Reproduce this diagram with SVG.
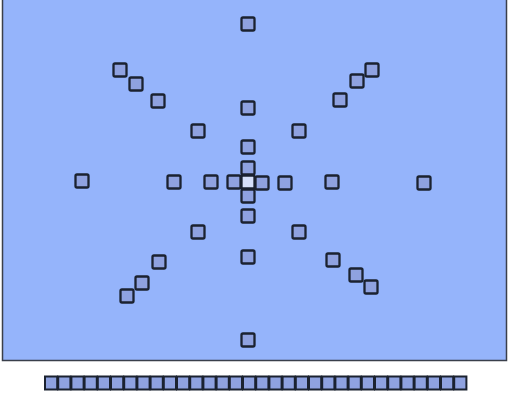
<svg xmlns="http://www.w3.org/2000/svg" width="509" height="396" viewBox="0 0 509 396">
<style>
.bg{fill:#95b4fb;stroke:#3a3f4a;stroke-width:1.5}
.n rect{fill:#8fa2e0;stroke:#1b2230;stroke-width:2.3;rx:1.5;width:13px;height:13px}
.n rect.c{fill:#d6e0fa}
.b rect{fill:#8fa2e0;stroke:#1b2230;stroke-width:2;width:12.2px;height:13px}
</style>
<rect class="bg" x="2.5" y="-2" width="504" height="362.5"/>
<g id="nodes" class="n">
<g id="n1"><rect x="241.5" y="17.5"/></g>
<g id="n2"><rect x="241.5" y="333.5"/></g>
<g id="n3"><rect x="75.5" y="174.5"/></g>
<g id="n4"><rect x="417.5" y="176.5"/></g>
<g id="n5"><rect x="113.5" y="63.5"/></g>
<g id="n6"><rect x="129.5" y="77.5"/></g>
<g id="n7"><rect x="151.5" y="94.5"/></g>
<g id="n8"><rect x="365.5" y="63.5"/></g>
<g id="n9"><rect x="350.5" y="74.5"/></g>
<g id="n10"><rect x="333.5" y="93.5"/></g>
<g id="n11"><rect x="241.5" y="101.5"/></g>
<g id="n12"><rect x="241.5" y="140.5"/></g>
<g id="n13"><rect x="191.5" y="124.5"/></g>
<g id="n14"><rect x="292.5" y="124.5"/></g>
<g id="n15"><rect x="167.5" y="175.5"/></g>
<g id="n16"><rect x="204.5" y="175.5"/></g>
<g id="n17"><rect x="278.5" y="176.5"/></g>
<g id="n18"><rect x="325.5" y="175.5"/></g>
<g id="n19"><rect class="c" x="241.5" y="175.5"/></g>
<g id="n20"><rect x="227.5" y="175.5"/></g>
<g id="n21"><rect x="255.5" y="176.5"/></g>
<g id="n22"><rect x="241.5" y="161.5"/></g>
<g id="n23"><rect x="241.5" y="189.5"/></g>
<g id="n24"><rect x="241.5" y="209.5"/></g>
<g id="n25"><rect x="241.5" y="250.5"/></g>
<g id="n26"><rect x="191.5" y="225.5"/></g>
<g id="n27"><rect x="292.5" y="225.5"/></g>
<g id="n28"><rect x="152.5" y="255.5"/></g>
<g id="n29"><rect x="135.5" y="276.5"/></g>
<g id="n30"><rect x="120.5" y="289.5"/></g>
<g id="n31"><rect x="326.5" y="253.5"/></g>
<g id="n32"><rect x="349.5" y="268.5"/></g>
<g id="n33"><rect x="364.5" y="280.5"/></g>
</g>
<g id="connectors"></g>
<g id="row" class="b">
<rect x="45" y="376.5"/>
<rect x="58.2" y="376.5"/>
<rect x="71.4" y="376.5"/>
<rect x="84.6" y="376.5"/>
<rect x="97.8" y="376.5"/>
<rect x="111" y="376.5"/>
<rect x="124.2" y="376.5"/>
<rect x="137.4" y="376.5"/>
<rect x="150.6" y="376.5"/>
<rect x="163.8" y="376.5"/>
<rect x="177" y="376.5"/>
<rect x="190.2" y="376.5"/>
<rect x="203.4" y="376.5"/>
<rect x="216.6" y="376.5"/>
<rect x="229.8" y="376.5"/>
<rect x="243" y="376.5"/>
<rect x="256.2" y="376.5"/>
<rect x="269.4" y="376.5"/>
<rect x="282.6" y="376.5"/>
<rect x="295.8" y="376.5"/>
<rect x="309" y="376.5"/>
<rect x="322.2" y="376.5"/>
<rect x="335.4" y="376.5"/>
<rect x="348.6" y="376.5"/>
<rect x="361.8" y="376.5"/>
<rect x="375" y="376.5"/>
<rect x="388.2" y="376.5"/>
<rect x="401.4" y="376.5"/>
<rect x="414.6" y="376.5"/>
<rect x="427.8" y="376.5"/>
<rect x="441" y="376.5"/>
<rect x="454.2" y="376.5"/>
</g>
</svg>
